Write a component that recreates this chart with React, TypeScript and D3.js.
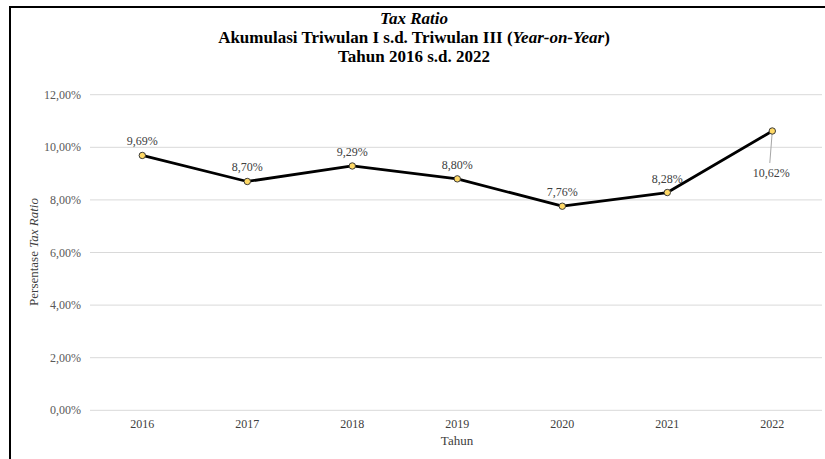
import React from "react";
import * as d3 from "d3";

const years = ["2016", "2017", "2018", "2019", "2020", "2021", "2022"];
const ratios = [9.69, 8.7, 9.29, 8.8, 7.76, 8.28, 10.62];
const yTicks = [0, 2, 4, 6, 8, 10, 12];

const W = 825;
const H = 459;
const fmt = (v: number) => v.toFixed(2).replace(".", ",") + "%";

export default function App() {
  const x = d3.scalePoint<string>().domain(years).range([142.3, 772.3]);
  const y = d3.scaleLinear().domain([0, 12]).range([410.3, 94.7]);
  const line = d3
    .line<number>()
    .x((_, i) => x(years[i]) as number)
    .y((d) => y(d));
  const font = '"Liberation Serif", "Times New Roman", serif';
  return (
    <svg
      width={W}
      height={H}
      style={{ position: "absolute", left: 0, top: 0, fontFamily: font }}
    >
      <rect width={W} height={H} fill="#fff" />
      <line x1={10} y1={7} x2={825} y2={7} stroke="#000" strokeWidth={2} />
      <line x1={10} y1={6} x2={10} y2={459} stroke="#000" strokeWidth={2} />
      <g textAnchor="middle" fontWeight="bold" fill="#000" style={{ fontFamily: font }}>
        <text x={414} y={24} fontSize={17} fontStyle="italic">
          Tax Ratio
        </text>
        <text x={414} y={43} fontSize={17}>
          Akumulasi Triwulan I s.d. Triwulan III (
          <tspan fontStyle="italic">Year-on-Year</tspan>)
        </text>
        <text x={414} y={62} fontSize={17}>
          Tahun 2016 s.d. 2022
        </text>
      </g>
      {yTicks.map((t) => (
        <g key={t}>
          <line x1={90} x2={822} y1={y(t)} y2={y(t)} stroke="#d9d9d9" strokeWidth={1} />
          <text x={81} y={y(t) + 4} textAnchor="end" fontSize={12} fill="#595959">
            {fmt(t)}
          </text>
        </g>
      ))}
      {years.map((yr) => (
        <text key={yr} x={x(yr)} y={428} textAnchor="middle" fontSize={12} fill="#404040">
          {yr}
        </text>
      ))}
      <text x={457} y={445} textAnchor="middle" fontSize={13} fill="#404040">
        Tahun
      </text>
      <text
        transform={`translate(38, 252) rotate(-90)`}
        textAnchor="middle"
        fontSize={13}
        fill="#404040"
      >
        Persentase <tspan fontStyle="italic">Tax Ratio</tspan>
      </text>
      <path d={line(ratios) || ""} fill="none" stroke="#000" strokeWidth={2.8} strokeLinejoin="round" />
      {ratios.map((v, i) => {
        const cx = x(years[i]) as number;
        const cy = y(v);
        const last = i === ratios.length - 1;
        return (
          <g key={i}>
            {last && (
              <line x1={cx} y1={cy} x2={cx - 2.5} y2={cy + 32} stroke="#a6a6a6" strokeWidth={1} />
            )}
            <circle cx={cx} cy={cy} r={3.2} fill="#FFD966" stroke="#3a3a3a" strokeWidth={1} />
            <text
              x={last ? cx - 1 : cx}
              y={last ? cy + 46 : cy - 10}
              textAnchor="middle"
              fontSize={12}
              fill="#404040"
            >
              {fmt(v)}
            </text>
          </g>
        );
      })}
    </svg>
  );
}
